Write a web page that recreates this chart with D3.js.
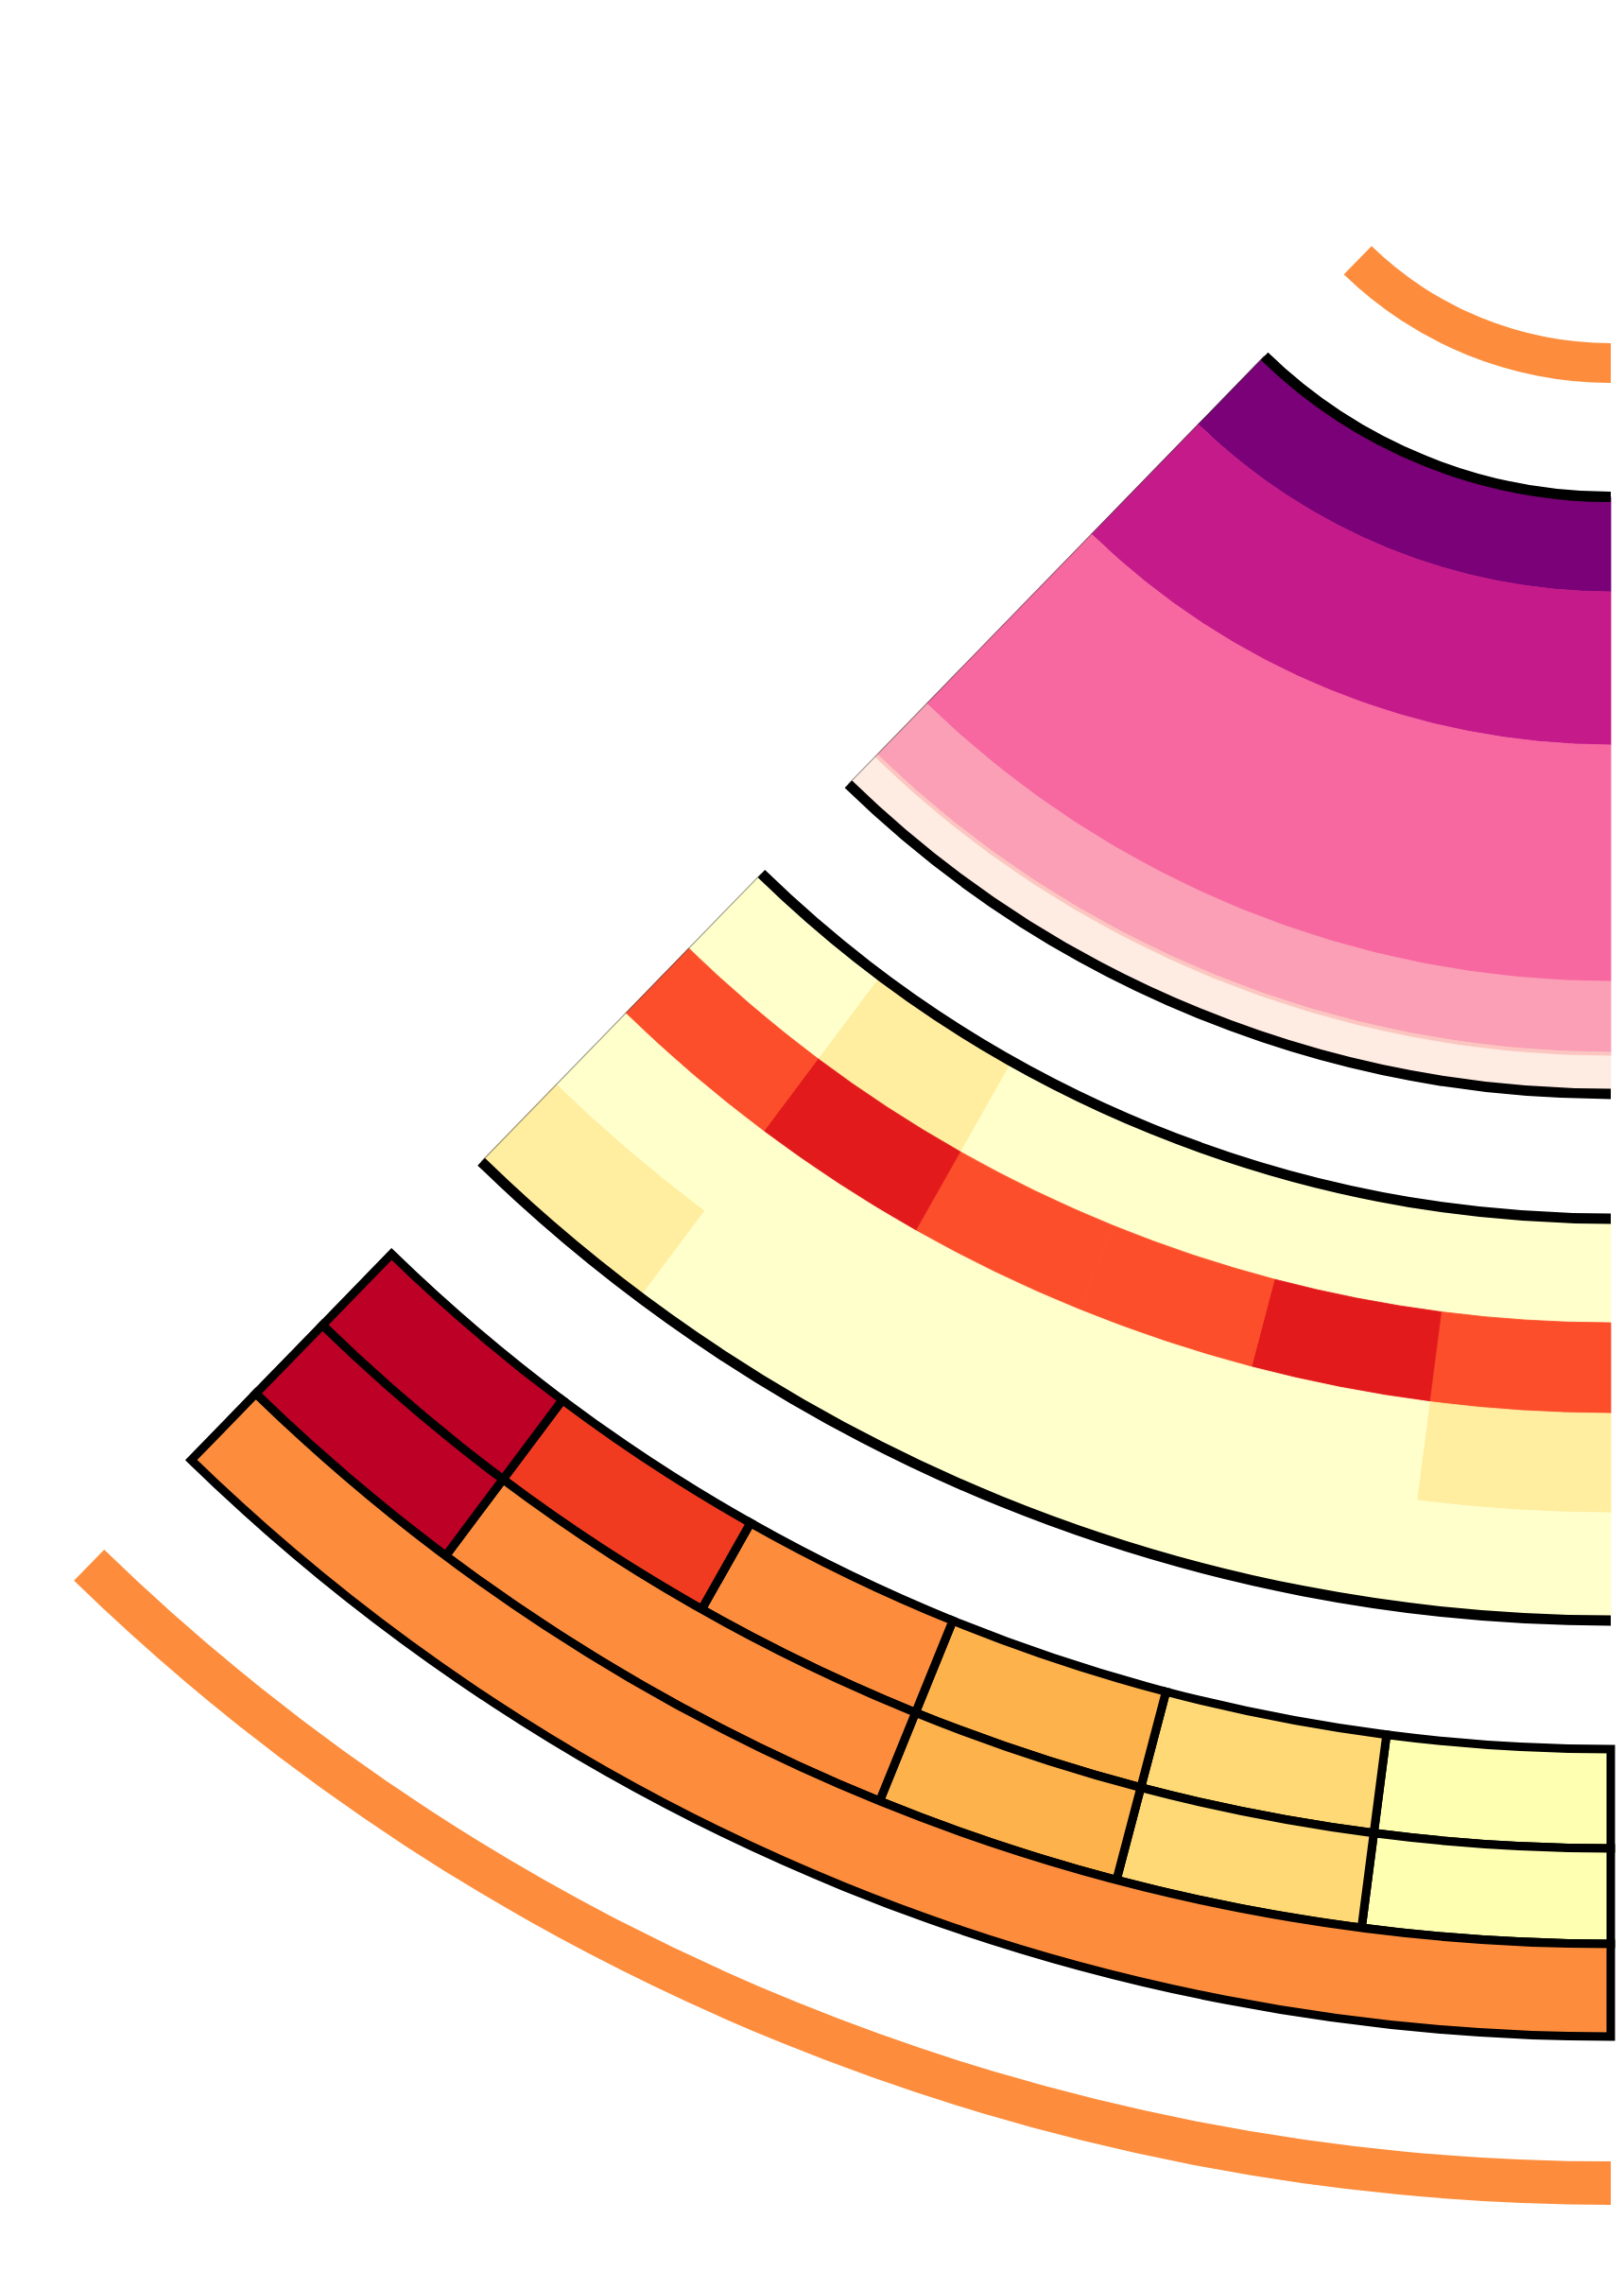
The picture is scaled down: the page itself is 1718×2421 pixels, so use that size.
<!DOCTYPE html>
<html><head><meta charset="utf-8">
<script src="https://cdn.jsdelivr.net/npm/d3@7"></script>
<style>html,body{margin:0;padding:0;background:#fff;} svg{display:block}</style>
</head><body>
<svg id="chart" width="1718" height="2421"></svg>
<script>
// ---------------- DATA ----------------
// angular columns, from the bottom (0) to the diagonal edge (5)
const columns = [0, 1, 2, 3, 4, 5];

// thin accent rings: [inner, outer] in radial units
const accentRings = [[168.5, 188.0], [1061.3, 1082.6]];
const accentClass = 3;

// purple band: layer boundaries (inner -> outer) and a class per layer
const purpleBounds  = [244.0, 290.6, 365.8, 481.9, 516.7, 518.6, 537.1];
const purpleClasses = [5, 4, 3, 2, 1, 0];
const purplePalette = ["#feebe2", "#fcc5c0", "#fa9fb5", "#f768a1", "#c51b8a", "#7a0177"];

// heat band: 4 rows (inner -> outer) x 6 columns, class index into YlOrRd(9)
const heatBounds = [598.4, 649.5, 694.0, 742.8, 795.7];
const heatRows = [
  [0, 0, 0, 0, 1, 0],
  [5, 6, 5, 5, 6, 5],
  [1, 0, 0, 0, 0, 0],
  [0, 0, 0, 0, 0, 1]
];

// partition band: rows (inner -> outer), cells [startCol, endCol, class in YlOrRd(6)]
const partBounds = [858.9, 907.6, 954.5, 1000.0];
const partRows = [
  [[0,1,0],[1,2,1],[2,3,2],[3,4,3],[4,5,4],[5,6,5]],
  [[0,1,0],[1,2,1],[2,3,2],[3,5,3],[5,6,5]],
  [[0,6,3]]
];

// ---------------- CHART ----------------
const W = 1718, H = 2421;
const cx = 1704, cy = 0;
const span = 44.2 * Math.PI / 180;

const angle = d3.scaleLinear().domain([0, columns.length]).range([Math.PI, Math.PI + span]);
const radius = d3.scaleLinear().domain([0, 1000]).range([0, 2154]);

const ylorrd9 = d3.schemeYlOrRd[9];
const ylorrd6 = d3.schemeYlOrRd[6];
const purpleColor = d3.scaleOrdinal().domain(d3.range(purplePalette.length)).range(purplePalette);

const svg = d3.select("#chart");
svg.append("rect").attr("width", W).attr("height", H).attr("fill", "#fff");
const g = svg.append("g").attr("transform", `translate(${cx},${cy})`);

const arc = d3.arc()
  .innerRadius(d => radius(d.r0)).outerRadius(d => radius(d.r1))
  .startAngle(d => angle(d.c0)).endAngle(d => angle(d.c1));

function arcLine(r) {
  const p = d3.path();
  p.arc(0, 0, radius(r), angle(0) - Math.PI / 2, angle(columns.length) - Math.PI / 2);
  return p.toString();
}
function edgeLine(r0, r1) {
  const a = angle(columns.length) - Math.PI / 2;
  const p = d3.path();
  p.moveTo(radius(r0) * Math.cos(a), radius(r0) * Math.sin(a));
  p.lineTo(radius(r1) * Math.cos(a), radius(r1) * Math.sin(a));
  return p.toString();
}

// accent rings
g.selectAll("path.accent").data(accentRings.map(r => ({r0: r[0], r1: r[1], c0: 0, c1: columns.length})))
  .join("path").attr("class", "accent")
  .attr("d", arc).attr("fill", ylorrd6[accentClass]);

// purple band
const purpleCells = purpleClasses.map((k, i) => ({r0: purpleBounds[i], r1: purpleBounds[i + 1], c0: 0, c1: columns.length, k}));
g.selectAll("path.purple").data(purpleCells).join("path").attr("class", "purple")
  .attr("d", arc).attr("fill", d => purpleColor(d.k))
  .attr("stroke", d => purpleColor(d.k)).attr("stroke-width", 0.8);

// heat band
const heatCells = [];
heatRows.forEach((row, i) => row.forEach((k, j) => heatCells.push({r0: heatBounds[i], r1: heatBounds[i + 1], c0: columns[j], c1: columns[j] + 1, k})));
g.selectAll("path.heat").data(heatCells).join("path").attr("class", "heat")
  .attr("d", arc).attr("fill", d => ylorrd9[d.k])
  .attr("stroke", d => ylorrd9[d.k]).attr("stroke-width", 0.8);

// outlines for purple and heat bands (arcs only)
const outlineRadii = [purpleBounds[0], purpleBounds[purpleBounds.length - 1], heatBounds[0], heatBounds[heatBounds.length - 1]];
g.selectAll("path.outline").data(outlineRadii).join("path").attr("class", "outline")
  .attr("d", d => arcLine(d)).attr("fill", "none").attr("stroke", "#000").attr("stroke-width", 11);
g.selectAll("path.edge").data([[purpleBounds[0], purpleBounds[purpleBounds.length - 1]], [heatBounds[0], heatBounds[heatBounds.length - 1]]])
  .join("path").attr("class", "edge")
  .attr("d", d => edgeLine(d[0], d[1])).attr("fill", "none").attr("stroke", "#333").attr("stroke-opacity", 0.45).attr("stroke-width", 1.2);

// partition band
const partCells = [];
partRows.forEach((row, i) => row.forEach(c => partCells.push({r0: partBounds[i], r1: partBounds[i + 1], c0: c[0], c1: c[1], k: c[2]})));
g.selectAll("path.part").data(partCells).join("path").attr("class", "part")
  .attr("d", arc).attr("fill", d => ylorrd6[d.k])
  .attr("stroke", "#000").attr("stroke-width", 9).attr("stroke-linejoin", "miter");
</script>
</body></html>
